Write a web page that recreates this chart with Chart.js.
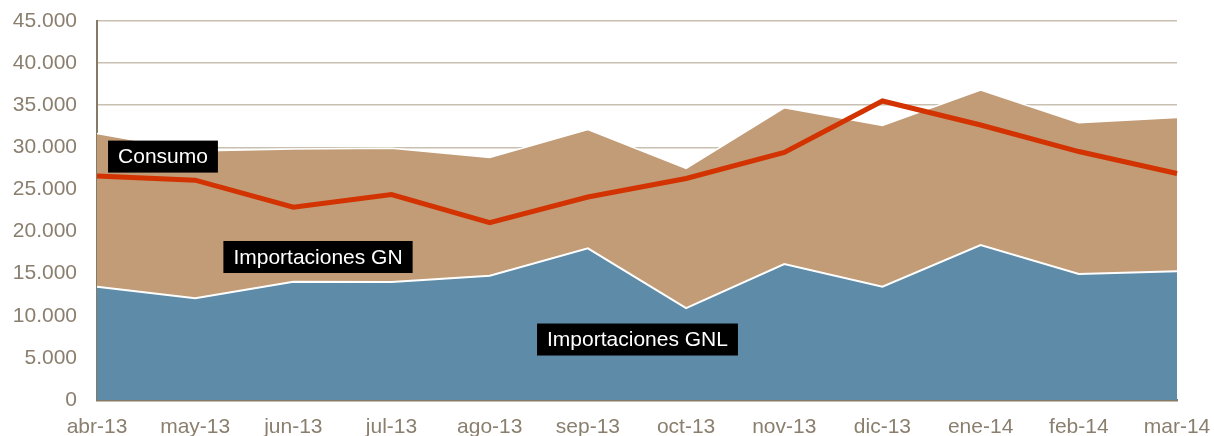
<!DOCTYPE html>
<html>
<head>
<meta charset="utf-8">
<script src="https://cdn.jsdelivr.net/npm/chart.js@4/dist/chart.umd.min.js"></script>
<style>
  html, body { margin: 0; padding: 0; background: #ffffff; }
  #wrap { width: 1214px; height: 436px; position: relative; }
</style>
</head>
<body>
<div id="wrap"><canvas id="c"></canvas></div>
<script>
// Monthly gas balance, abr-13 .. mar-14
const months = ['abr-13','may-13','jun-13','jul-13','ago-13','sep-13','oct-13','nov-13','dic-13','ene-14','feb-14','mar-14'];
const importacionesGNL = [13450, 12070, 14050, 14000, 14750, 18000, 10900, 16150, 13450, 18400, 14960, 15300];
const importacionesGN  = [18200, 17500, 15750, 15900, 14050, 14100, 16600, 18550, 19150, 18400, 17950, 18250];
const consumo          = [26600, 26100, 22900, 24400, 21050, 24100, 26300, 29400, 35500, 32650, 29500, 26900];
const yTicks = [0, 5000, 10000, 15000, 20000, 25000, 30000, 35000, 40000, 45000];

// Series name tags, anchored in data space (category index, value)
const seriesTags = [
  { text: 'Consumo',            at: [0.672, 28900] },
  { text: 'Importaciones GN',   at: [2.251, 16980] },
  { text: 'Importaciones GNL',  at: [5.505, 7180] }
];

const FONT = '"Liberation Sans", Arial, sans-serif';
const fmt = v => v === 0 ? '0' : v.toLocaleString('de-DE');

const tagPlugin = {
  id: 'seriesTags',
  afterDatasetsDraw(chart) {
    const { ctx, scales } = chart;
    ctx.save();
    ctx.font = '21px ' + FONT;
    ctx.textAlign = 'center';
    ctx.textBaseline = 'middle';
    seriesTags.forEach(t => {
      const cx = scales.x.getPixelForValue(t.at[0]);
      const cy = scales.y.getPixelForValue(t.at[1]);
      const w = ctx.measureText(t.text).width + 20;
      const h = 32;
      ctx.fillStyle = '#000000';
      ctx.fillRect(cx - w / 2, cy - h / 2, w, h);
      ctx.fillStyle = '#ffffff';
      ctx.fillText(t.text, cx, cy + 1);
    });
    ctx.restore();
  }
};

new Chart(document.getElementById('c'), {
  type: 'line',
  data: {
    labels: months,
    datasets: [
      {
        label: 'Consumo',
        data: consumo,
        stack: 'consumo',
        order: 0,
        borderColor: '#D23300',
        borderWidth: 5,
        pointRadius: 0,
        fill: false,
        tension: 0
      },
      {
        label: 'Importaciones GNL',
        data: importacionesGNL,
        stack: 'importaciones',
        order: 1,
        borderColor: '#ffffff',
        borderWidth: 2,
        backgroundColor: '#5E8CA8',
        pointRadius: 0,
        fill: 'origin',
        tension: 0
      },
      {
        label: 'Importaciones GN',
        data: importacionesGN,
        stack: 'importaciones',
        order: 2,
        borderColor: '#ffffff',
        borderWidth: 1.5,
        backgroundColor: '#C19C76',
        pointRadius: 0,
        fill: '-1',
        tension: 0
      }
    ]
  },
  options: {
    responsive: true,
    maintainAspectRatio: false,
    animation: false,
    layout: { padding: { top: 21, right: 37, left: 0, bottom: 0 } },
    plugins: {
      legend: { display: false },
      tooltip: { enabled: false }
    },
    scales: {
      x: {
        offset: false,
        grid: { display: false, drawTicks: false },
        border: { display: true, color: '#857A66', width: 2.5 },
        ticks: {
          color: '#8A7F6E',
          font: { family: FONT, size: 21 },
          padding: 15,
          maxRotation: 0,
          autoSkip: false
        },
        afterFit(scale) {
          scale.height = 36;
          scale.paddingLeft = 0;
          scale.paddingRight = 0;
        }
      },
      y: {
        stacked: true,
        min: 0,
        max: 45000,
        afterBuildTicks(scale) { scale.ticks = yTicks.map(v => ({ value: v })); },
        grid: { color: '#C8C0B1', lineWidth: 1.5, drawTicks: false },
        border: { display: true, color: '#857A66', width: 2 },
        ticks: {
          color: '#8A7F6E',
          font: { family: FONT, size: 21 },
          padding: 20,
          callback: v => fmt(v)
        },
        afterFit(scale) {
          scale.width = 97;
          scale.paddingTop = 0;
          scale.paddingBottom = 0;
        }
      }
    }
  },
  plugins: [tagPlugin]
});
</script>
</body>
</html>
